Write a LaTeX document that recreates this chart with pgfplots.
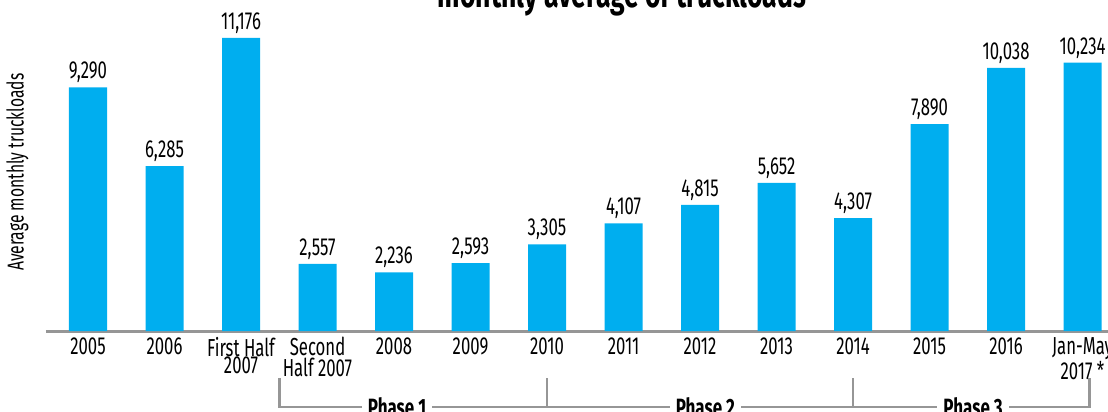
\documentclass[border=0pt]{standalone}
\usepackage{pgfplots}
\pgfplotsset{compat=1.18}
\usepackage{pgfplotstable}
\usepackage{fontspec}
\setmainfont{Fira Sans}[FakeStretch=0.68]
\definecolor{barcyan}{RGB}{0,174,239}
\definecolor{axgray}{RGB}{150,150,150}
\pgfplotstableread{
x y label
0 9290 9,290
1 6285 6,285
2 11176 11,176
3 2557 2,557
4 2236 2,236
5 2593 2,593
6 3305 3,305
7 4107 4,107
8 4815 4,815
9 5652 5,652
10 4307 4,307
11 7890 7,890
12 10038 10,038
13 10234 10,234
}\datatable
\begin{document}
\begin{tikzpicture}
\path[use as bounding box, clip] (0,0) rectangle (554pt,206pt);
\begin{axis}[
  at={(23pt,40.5pt)}, anchor=south west,
  scale only axis, width=531pt, height=165.5pt,
  xmin=-0.549, xmax=13.333, ymin=0, ymax=12624,
  axis x line*=bottom, axis y line*=left,
  y axis line style={draw=none},
  x axis line style={axgray, line width=1.5pt},
  xtick={0,...,13},
  xticklabels={2005,2006,{First Half\\2007},{Second\\Half 2007},2008,2009,2010,2011,2012,2013,2014,2015,2016,{Jan-May\\2017 *}},
  xticklabel style={align=center, font=\fontsize{12.3}{8.6}\selectfont, inner sep=1pt, yshift=-2pt},
  major tick length=0pt, ytick=\empty,
  ybar, bar width=19pt,
  clip=false,
  ylabel={Average monthly truckloads},
  ylabel style={at={(axis description cs:-0.027,0.48)}, anchor=center, font=\fontsize{11.5}{12}\selectfont},
  nodes near coords, point meta=explicit symbolic,
  nodes near coords style={font=\fontsize{12.3}{13}\selectfont, inner sep=2pt},
]
\addplot[fill=barcyan, draw=none] table[x=x,y=y,meta=label]{\datatable};
\draw[axgray, line width=1.25pt] (axis cs:2.5,-1793) |- (axis cs:13.09,-2899) -- (axis cs:13.09,-1793);
\draw[axgray, line width=1.25pt] (axis cs:6,-1793) -- (axis cs:6,-2899);
\draw[axgray, line width=1.25pt] (axis cs:10,-1793) -- (axis cs:10,-2899);
\node[fill=white, inner xsep=3pt, inner ysep=1pt, font=\bfseries\fontsize{12.5}{13}\selectfont] at (axis cs:4.04,-2899) {Phase 1};
\node[fill=white, inner xsep=3pt, inner ysep=1pt, font=\bfseries\fontsize{12.5}{13}\selectfont] at (axis cs:8.07,-2899) {Phase 2};
\node[fill=white, inner xsep=3pt, inner ysep=1pt, font=\bfseries\fontsize{12.5}{13}\selectfont] at (axis cs:11.57,-2899) {Phase 3};
\end{axis}
\node[font=\bfseries\fontsize{19.5}{20}\selectfont, anchor=base] at (311pt,202pt) {monthly average of truckloads};
\end{tikzpicture}
\end{document}
